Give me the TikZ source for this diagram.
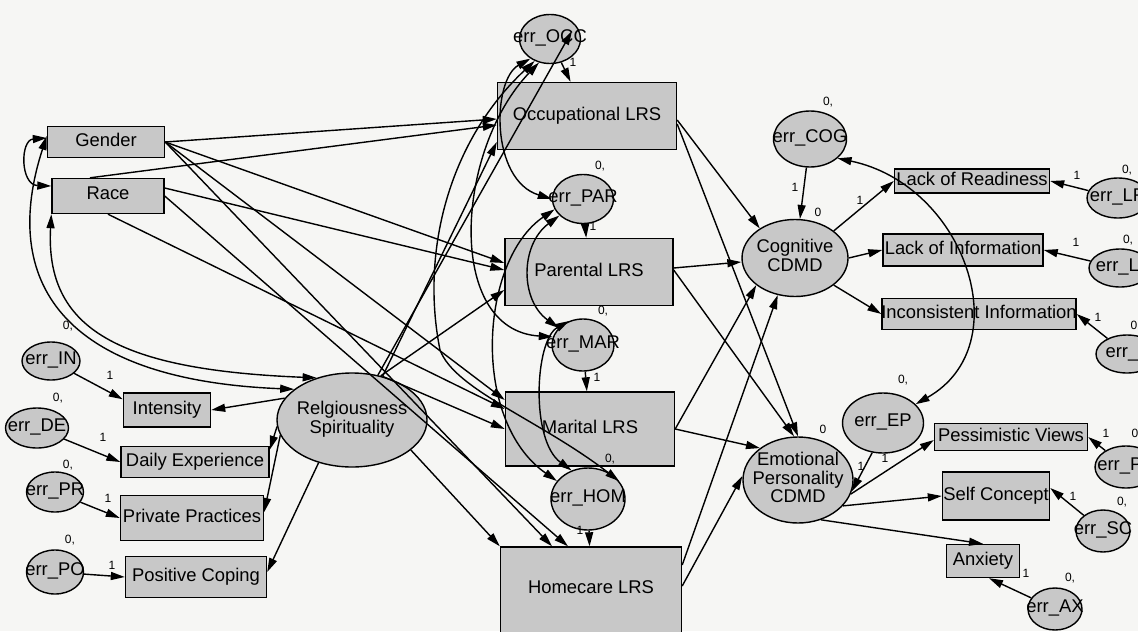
\documentclass[tikz,border=0pt]{standalone}
\usepackage{fontspec}
\setmainfont{Liberation Sans}
\usetikzlibrary{positioning,shapes,arrows.meta,calc}
\definecolor{boxgray}{RGB}{200,200,200}
\definecolor{paper}{RGB}{246,246,244}
\renewcommand{\arraystretch}{0.8}
\newcommand{\ctext}[1]{\makebox[0pt]{\begin{tabular}{@{}c@{}}#1\end{tabular}}}
\tikzset{
  obs/.style={draw, fill=boxgray, rectangle, inner sep=0pt, line width=0.7pt},
  lat/.style={draw, fill=boxgray, ellipse, inner sep=0pt, line width=0.7pt},
  reg/.style={-{Triangle[length=7pt,width=4pt]}, line width=0.7pt},
  cov/.style={{Triangle[length=7pt,width=4pt]}-{Triangle[length=7pt,width=4pt]}, line width=0.7pt},
  lab/.style={font=\fontsize{6}{7}\selectfont, inner sep=0pt},
}
\begin{document}
\begin{tikzpicture}[x=0.5pt, y=-0.5pt, font=\fontsize{9.2}{11}\selectfont]
% page and clipping (coordinates are pixels of the original, y downwards)
\fill[paper] (0,0) rectangle (1138,631);
\useasboundingbox (0,0) rectangle (1138,631);
\clip (0,0) rectangle (1138,631);

% exogenous observed
\node[obs, minimum width=58.5pt, minimum height=15.5pt] (gender) at (106,142) {\ctext{Gender}};
\node[obs, minimum width=56pt, minimum height=17.5pt] (race) at (108,196) {\ctext{Race}};

% religiousness / spirituality and indicators
\node[lat, minimum width=75pt, minimum height=47pt] (rs) at (352,420) {\ctext{Relgiousness\\Spirituality}};
\node[obs, minimum width=43.5pt, minimum height=17pt] (intensity) at (167,410) {\ctext{Intensity}};
\node[obs, minimum width=74pt, minimum height=15.5pt] (daily) at (195,462) {\ctext{Daily Experience}};
\node[obs, minimum width=71.5pt, minimum height=22.5pt] (private) at (192,518) {\ctext{Private Practices}};
\node[obs, minimum width=70.5pt, minimum height=20.5pt] (positive) at (196,577) {\ctext{Positive Coping}};
\node[lat, minimum width=29pt, minimum height=19pt] (eIN) at (51,361) {\ctext{err\_IN}};
\node[lat, minimum width=31.5pt, minimum height=20pt] (eDE) at (37,428) {\ctext{err\_DE}};
\node[lat, minimum width=28.5pt, minimum height=20pt] (ePR) at (55,492) {\ctext{err\_PR}};
\node[lat, minimum width=28.5pt, minimum height=22pt] (ePO) at (55,572) {\ctext{err\_PO}};

% life role salience
\node[obs, minimum width=89.5pt, minimum height=33.5pt] (occ) at (587,116) {\ctext{Occupational LRS}};
\node[obs, minimum width=84pt, minimum height=33.5pt] (par) at (589,272) {\ctext{Parental LRS}};
\node[obs, minimum width=84.5pt, minimum height=37pt] (mar) at (590,429) {\ctext{Marital LRS}};
\node[obs, minimum width=90.5pt, minimum height=43pt] (hom) at (591,590) {\ctext{Homecare LRS}};
\node[lat, minimum width=30.5pt, minimum height=24.5pt] (eOCC) at (550,39) {\ctext{err\_OCC}};
\node[lat, minimum width=30.5pt, minimum height=24.5pt] (ePAR) at (583,199) {\ctext{err\_PAR}};
\node[lat, minimum width=31pt, minimum height=26pt] (eMAR) at (583,345) {\ctext{err\_MAR}};
\node[lat, minimum width=37pt, minimum height=31pt] (eHOM) at (588,499) {\ctext{err\_HOM}};

% cognitive CDMD
\node[lat, minimum width=53pt, minimum height=38.5pt] (cog) at (795,258) {\ctext{Cognitive\\CDMD}};
\node[lat, minimum width=36.5pt, minimum height=28pt] (eCOG) at (810,139) {\ctext{err\_COG}};
\node[obs, minimum width=77.5pt, minimum height=12pt] (lor) at (972,181) {\ctext{Lack of Readiness}};
\node[obs, minimum width=80pt, minimum height=16pt] (loi) at (963,250) {\ctext{Lack of Information}};
\node[obs, minimum width=97pt, minimum height=15.5pt] (inc) at (979,314) {\ctext{Inconsistent Information}};
\node[lat, minimum width=31pt, minimum height=20pt] (eLR) at (1118,198) {\ctext{err\_LR}};
\node[lat, minimum width=31pt, minimum height=19pt] (eLI) at (1120,268) {\ctext{err\_LI}};
\node[lat, minimum width=31pt, minimum height=19pt] (eII) at (1127,354) {\ctext{err\_II}};

% emotional personality CDMD
\node[lat, minimum width=55pt, minimum height=43pt] (emo) at (798,480) {\ctext{Emotional\\Personality\\CDMD}};
\node[lat, minimum width=40.5pt, minimum height=30pt] (eEP) at (883,423) {\ctext{err\_EP}};
\node[obs, minimum width=76.5pt, minimum height=13.5pt] (pes) at (1011,437) {\ctext{Pessimistic Views}};
\node[obs, minimum width=53.5pt, minimum height=24pt] (self) at (996,496) {\ctext{Self Concept}};
\node[obs, minimum width=36.5pt, minimum height=16.5pt] (anx) at (983,561) {\ctext{Anxiety}};
\node[lat, minimum width=31pt, minimum height=21pt] (ePV) at (1126,467) {\ctext{err\_PV}};
\node[lat, minimum width=27pt, minimum height=21pt] (eSC) at (1103,531) {\ctext{err\_SC}};
\node[lat, minimum width=27pt, minimum height=21pt] (eAX) at (1055,609) {\ctext{err\_AX}};

% measurement of R/S
\draw[reg] (eIN) -- ([yshift=-3.5pt]intensity.north west);
\draw[reg] (eDE) -- (daily.west);
\draw[reg] (ePR) -- (private.west);
\draw[reg] (ePO) -- (positive.west);
\draw[reg] (rs.162) -- (intensity.east);
\draw[reg] (rs.185) -- ([yshift=-2pt]daily.north east);
\draw[reg] (rs.192) -- ([yshift=3pt]private.east);
\draw[reg] (rs.232) -- ([yshift=2.5pt]positive.east);

% covariances of the exogenous variables
\draw[cov] ([yshift=2pt]gender.west) .. controls (20,140) and (20,185) .. ([yshift=5pt]race.west);
\draw[cov] ([yshift=3pt]gender.west) .. controls (0,280) and (60,380) .. (rs.152);
\draw[cov] (race.south west) .. controls (45,330) and (120,370) .. (rs.130);

% exogenous -> LRS
\draw[reg] (gender.east) -- ([yshift=-1.5pt]occ.west);
\draw[reg] ([xshift=-9pt]race.north) -- ([yshift=-4.5pt]occ.west);
\draw[reg] (rs.55) -- ([yshift=-13pt]occ.west);
\draw[reg] (rs.60) -- ([xshift=11pt,yshift=4pt]eOCC.center);
\draw[reg] (gender.east) -- ([yshift=4.5pt]par.west);
\draw[reg] ([yshift=4pt]race.east) -- ([yshift=1pt]par.west);
\draw[reg] (rs.57) -- ([yshift=-9pt]par.west);
\draw[reg] (gender.east) -- ([yshift=14.5pt]mar.west);
\draw[reg] (race.south) -- ([yshift=10pt]mar.west);
\draw[reg] (rs.55) -- (mar.west);
\draw[reg] (gender.east) -- ([xshift=-19.5pt]hom.north);
\draw[reg] (race.east) -- ([xshift=-11.5pt]hom.north);
\draw[reg] (rs.-27) -- (hom.north west);

% disturbances of LRS
\draw[reg] (eOCC) -- (occ);
\draw[reg] (ePAR) -- (par);
\draw[reg] (eMAR) -- (mar);
\draw[reg] (eHOM) -- (hom);
\draw[cov] (eOCC.225) .. controls (492,80) and (490,180) .. (ePAR.west);
\draw[cov] (eOCC.245) .. controls (455,150) and (445,330) .. (eMAR.165);
\draw[cov] (eOCC.235) .. controls (450,140) and (420,250) .. (440,350)
  .. controls (455,390) and (540,420) .. (eHOM.30);
\draw[cov] (ePAR.215) .. controls (520,245) and (520,300) .. (eMAR.145);
\draw[cov] (ePAR.200) .. controls (480,260) and (470,420) .. (eHOM.150);
\draw[cov] (eMAR.120) .. controls (535,340) and (530,440) .. (eHOM.120);

% LRS -> CDMD
\draw[reg] ([yshift=-2pt]occ.east) -- (cog.140);
\draw[reg] ([yshift=-4pt]occ.east) -- (emo.north);
\draw[reg] ([yshift=2pt]par.east) -- ([yshift=-2pt]cog.west);
\draw[reg] ([yshift=1pt]par.east) -- ([xshift=-2pt]emo.north);
\draw[reg] (mar.east) -- (cog.215);
\draw[reg] (mar.east) -- (emo.140);
\draw[reg] ([yshift=12.5pt]hom.east) -- (cog.245);
\draw[reg] ([yshift=2pt]hom.east) -- ([yshift=2pt]emo.west);

% cognitive measurement
\draw[reg] (eCOG) -- (cog);
\draw[reg] (cog.35) -- (lor.west);
\draw[reg] (cog.east) -- (loi.west);
\draw[reg] (cog.-35) -- (inc.west);
\draw[reg] (eLR) -- (lor.east);
\draw[reg] (eLI) -- (loi.east);
\draw[reg] (eII) -- (inc.east);

% emotional measurement
\draw[reg] (eEP.250) -- (emo.-12);
\draw[reg] (emo.-15) -- ([yshift=-1.5pt]pes.west);
\draw[reg] (emo.-30) -- (self.west);
\draw[reg] (emo.-60) -- (anx.north);
\draw[reg] (ePV) -- (pes.east);
\draw[reg] (eSC) -- ([yshift=4pt]self.east);
\draw[reg] (eAX) -- ([xshift=3pt]anx.south);
\draw[cov] (eCOG.-35) .. controls (965,185) and (1020,345) .. (eEP.30);

% means / variances
\foreach \x/\y in {68/326, 58/398, 68/465, 70/540, 600/166, 603/311, 610/459, 828/102,
  1127/170, 1128/240, 903/380, 1122/502, 1070/578}
  \node[lab] at (\x,\y) {0,};
\foreach \x/\y in {818/212, 823/429, 1134/325, 1135/433}
  \node[lab] at (\x,\y) {0};

% fixed loadings
\foreach \x/\y in {110/375, 103/437, 108/498, 112/565, 573/62, 593/226, 597/377, 580/530,
  795/187, 860/200, 1077/175, 1076/242, 1098/317, 885/458, 861/466, 1106/433, 1073/496, 1026/573}
  \node[lab] at (\x,\y) {1};
\end{tikzpicture}
\end{document}
